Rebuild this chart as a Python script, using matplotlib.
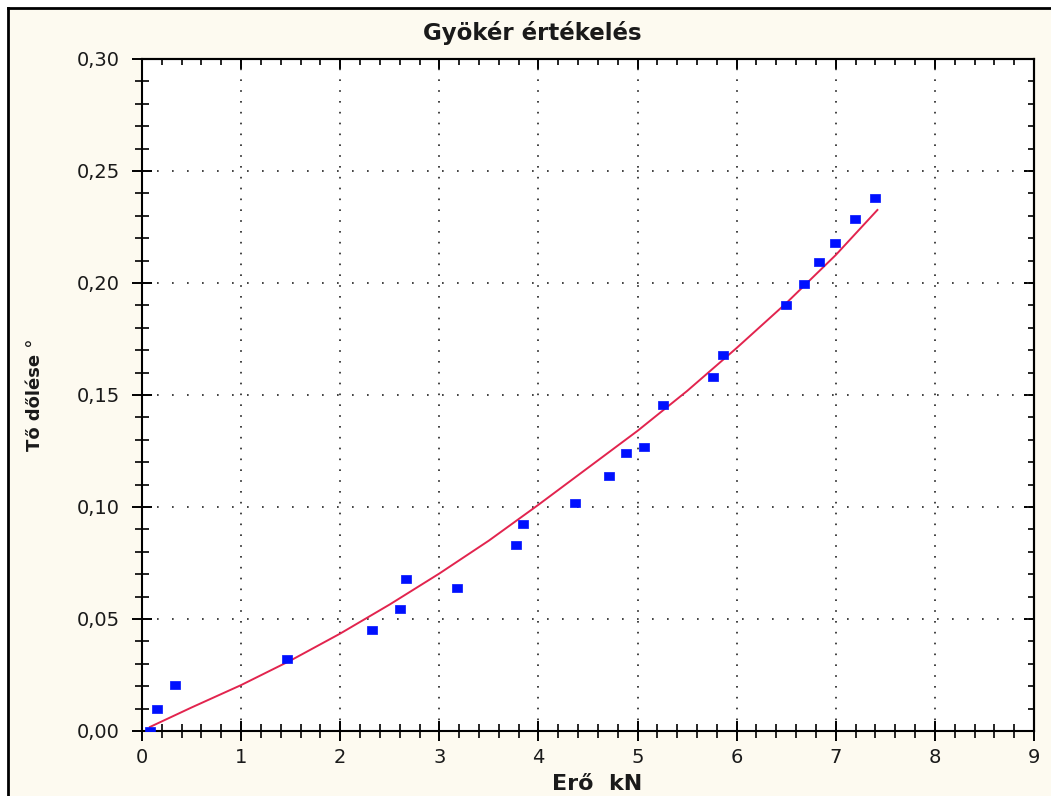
import matplotlib
matplotlib.use("Agg")
import matplotlib.pyplot as plt
from matplotlib.ticker import MultipleLocator, FuncFormatter
from matplotlib.patches import Rectangle
from matplotlib.lines import Line2D

# Measured points: applied force (kN) vs. trunk tilt (degrees)
force_kn = [0.08, 0.15, 0.33, 1.46, 2.32, 2.60, 2.66, 3.18, 3.77, 3.84, 4.37, 4.71,
            4.88, 5.07, 5.26, 5.76, 5.86, 6.50, 6.68, 6.83, 6.99, 7.19, 7.40]
tilt_deg = [0.000, 0.010, 0.0205, 0.032, 0.045, 0.0545, 0.068, 0.064, 0.083, 0.0925,
            0.102, 0.114, 0.124, 0.127, 0.1455, 0.158, 0.168, 0.190, 0.1995, 0.2095,
            0.218, 0.2285, 0.238]

# Fitted curve samples
fit_force = [0.08, 0.5, 1.0, 1.5, 2.0, 2.5, 3.0, 3.5, 4.0, 4.5, 5.0, 5.5, 6.0, 6.5, 7.0, 7.42]
fit_tilt = [0.0018, 0.0105, 0.0205, 0.0315, 0.0435, 0.0565, 0.0703, 0.0850, 0.1010,
            0.1175, 0.1340, 0.1518, 0.1710, 0.1910, 0.2125, 0.2326]

title = "Gyökér értékelés"
x_label = "Erő  kN"
y_label = "Tő dőlése °"

W, H = 1051, 796
fig = plt.figure(figsize=(W / 100, H / 100), dpi=100, facecolor="white")

# Cream panel with a dark frame on the left and top
panel_bg = "#fdfaf0"
fig.patches.append(Rectangle((8 / W, 0), 1 - 8 / W, 1 - 8 / H, transform=fig.transFigure,
                             facecolor=panel_bg, edgecolor="none", zorder=-10))
fig.lines.append(Line2D([8 / W, 8 / W], [0, 1 - 8 / H], transform=fig.transFigure,
                        color="black", lw=2.0, zorder=-5))
fig.lines.append(Line2D([8 / W, 1], [1 - 8 / H, 1 - 8 / H], transform=fig.transFigure,
                        color="black", lw=2.0, zorder=-5))

ax = fig.add_axes([142 / W, 1 - 731 / H, (1034 - 142) / W, (731 - 59) / H])
ax.set_zorder(1)
ax.set_facecolor("white")

ax.plot(fit_force, fit_tilt, color="#e2244e", lw=1.4, zorder=3)
rect_marker = [(-4, -3.2), (4, -3.2), (4, 3.2), (-4, 3.2), (-4, -3.2)]
ax.plot(force_kn, tilt_deg, linestyle="none", marker=rect_marker, ms=7.2,
        color="#0010ff", mec="#0010ff", mew=0.5, zorder=4)

ax.set_xlim(0, 9)
ax.set_ylim(0, 0.30)
ax.xaxis.set_major_locator(MultipleLocator(1))
ax.xaxis.set_minor_locator(MultipleLocator(0.2))
ax.yaxis.set_major_locator(MultipleLocator(0.05))
ax.yaxis.set_minor_locator(MultipleLocator(0.01))
ax.yaxis.set_major_formatter(FuncFormatter(lambda v, p: f"{v:.2f}".replace(".", ",")))
ax.xaxis.set_major_formatter(FuncFormatter(lambda v, p: f"{v:.0f}"))

for s in ax.spines.values():
    s.set_linewidth(1.5)
    s.set_color("black")

ax.tick_params(axis="both", which="major", direction="inout", length=14, width=1.4,
               labelsize=14, colors="black", top=False, right=False)
ax.tick_params(axis="both", which="minor", direction="inout", length=10, width=1.2,
               top=False, right=False)
ax.tick_params(axis="x", which="major", pad=5)
ax.tick_params(axis="y", which="major", pad=9)
for lbl in ax.get_xticklabels() + ax.get_yticklabels():
    lbl.set_color("#1a1a1a")

# Inward ticks along the top and right edges
top = ax.secondary_xaxis("top")
top.xaxis.set_major_locator(MultipleLocator(1))
top.xaxis.set_minor_locator(MultipleLocator(0.2))
top.tick_params(which="major", direction="in", length=7, width=1.4, labeltop=False)
top.tick_params(which="minor", direction="in", length=4, width=1.2)
top.spines["top"].set_linewidth(1.5)
right = ax.secondary_yaxis("right")
right.yaxis.set_major_locator(MultipleLocator(0.05))
right.yaxis.set_minor_locator(MultipleLocator(0.01))
right.tick_params(which="major", direction="in", length=7, width=1.4, labelright=False)
right.tick_params(which="minor", direction="in", length=4, width=1.2)
right.spines["right"].set_linewidth(1.5)

# Dotted grid at the major ticks
ax.xaxis.grid(True, which="major", color="#222222", lw=1.2, linestyle=(0, (1, 5.5)))
ax.yaxis.grid(True, which="major", color="#222222", lw=1.2, linestyle=(0, (1, 8.0)))
ax.set_axisbelow(True)

fig.text(532 / W, 1 - 33 / H, title, ha="center", va="center", fontsize=16.5,
         fontweight="bold", color="#1a1a1a")
fig.text(597 / W, 1 - 784 / H, x_label, ha="center", va="center", fontsize=16,
         fontweight="bold", color="#1a1a1a")
fig.text(35 / W, 1 - 395 / H, y_label, ha="center", va="center", fontsize=13,
         fontweight="bold", rotation=90, color="#1a1a1a")

fig.savefig("out.png", dpi=100, facecolor=fig.get_facecolor())
